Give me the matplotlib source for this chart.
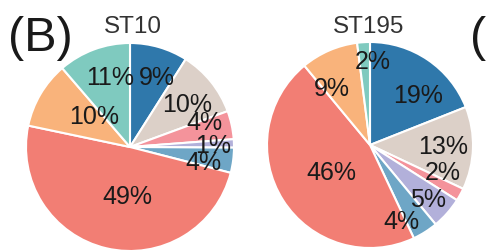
import numpy as np
import matplotlib
matplotlib.use("Agg")
import matplotlib.pyplot as plt

plt.rcParams["font.family"] = ["Liberation Sans", "DejaVu Sans"]

# slice order: clockwise from 12 o'clock
colors = ["#2f78ab", "#dcd0c8", "#f4939b", "#b2b0da",
          "#6ea6c6", "#f27e74", "#f9b37b", "#7fcabf"]

st10_values = [9.0, 10.4, 4.4, 1.3, 3.9, 49.3, 10.4, 11.3]
st195_values = [19.0, 13.0, 2.0, 5.0, 4.0, 46.0, 9.0, 2.0]

# label radius (fraction of pie radius) and angle nudge (deg), per slice
st10_label_r = [0.71, 0.68, 0.75, 0.80, 0.72, 0.48, 0.45, 0.69]
st10_label_da = [-5, -2.5, 6, -1.3, -4.6, 9.7, -10, -4]
st195_label_r = [0.67, 0.71, 0.76, 0.78, 0.81, 0.46, 0.66, 0.81]
st195_label_da = [-10, 0, 8, -2, -10, 4, 10.6, -5.6]


def draw_pie(ax, values, label_r, label_da):
    wedges, _, autotexts = ax.pie(
        values, colors=colors, startangle=90, counterclock=False,
        autopct="%.0f%%", radius=1.0,
        wedgeprops=dict(edgecolor="white", linewidth=1.5),
        textprops=dict(fontsize=18, color="#1a1a1a"))
    for w, t, r, da in zip(wedges, autotexts, label_r, label_da):
        ang = np.deg2rad((w.theta1 + w.theta2) / 2 + da)
        t.set_position((r * np.cos(ang), r * np.sin(ang)))
        t.set_ha("center")
        t.set_va("center")
    ax.set_xlim(-1, 1)
    ax.set_ylim(-1, 1)
    ax.set_aspect("auto")
    ax.axis("off")


W, H = 489, 250
fig = plt.figure(figsize=(W / 100, H / 100), dpi=100)


def pie_axes(cx, cy, r):
    return fig.add_axes([(cx - r) / W, (H - cy - r) / H, 2 * r / W, 2 * r / H])


ax1 = pie_axes(130, 147, 104)
draw_pie(ax1, st10_values, st10_label_r, st10_label_da)
ax2 = pie_axes(370, 145, 103)
draw_pie(ax2, st195_values, st195_label_r, st195_label_da)

fig.text(133 / W, 1 - 33 / H, "ST10", ha="center", va="baseline",
         fontsize=17.5, color="#333333")
fig.text(369 / W, 1 - 33 / H, "ST195", ha="center", va="baseline",
         fontsize=17.5, color="#333333")
fig.text(8 / W, 1 - 51 / H, "(B)", ha="left", va="baseline",
         fontsize=35, color="#1a1a1a")
fig.text(470 / W, 1 - 51 / H, "(C)", ha="left", va="baseline",
         fontsize=35, color="#1a1a1a")

fig.savefig("out.png", dpi=100)
